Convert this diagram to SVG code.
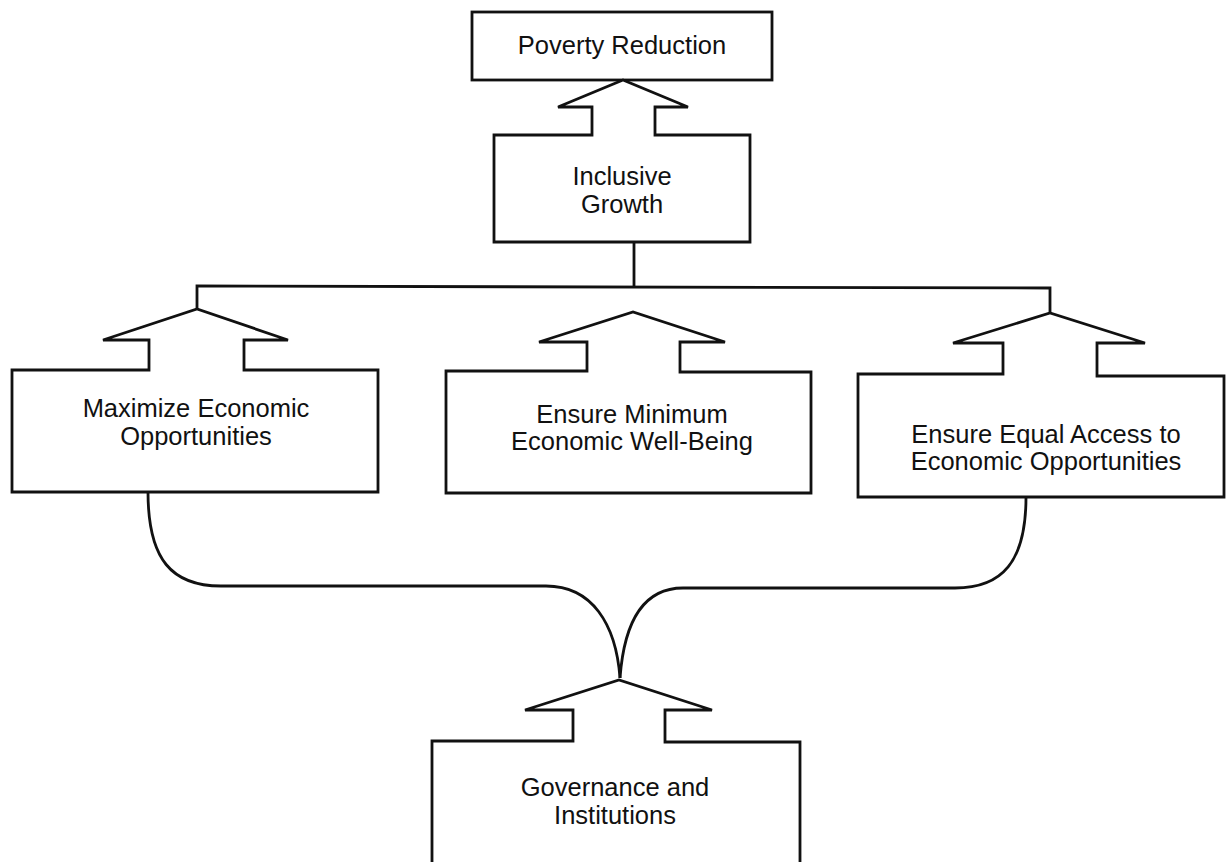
<svg xmlns="http://www.w3.org/2000/svg" width="1226" height="862" viewBox="0 0 1226 862">
<style>
.shape{fill:#fff;stroke:#111;stroke-width:2.8;stroke-linejoin:miter}
.open{fill:none;stroke:#111;stroke-width:2.8}
.lbl{font-family:"Liberation Sans",Arial,sans-serif;font-size:25.5px;fill:#111;text-anchor:middle}
.conn{fill:none;stroke:#111;stroke-width:2.8}
</style>
<rect width="1226" height="862" fill="#fff"/>
<g id="connectors">
<path class="conn" d="M634,242 L634,286"/>
<path class="conn" d="M197,309 L197,286 L1050,288 L1050,313"/>
<path class="conn" d="M148,492 C148,560 172,586 221,586 L546,586 C592,586 616,624 620,678"/>
<path class="conn" d="M1026,497 C1026,562 1002,588 955,588 L683,588 C642,588 624,624 620,678"/>
</g>
<g id="poverty-reduction">
<rect class="shape" x="472" y="12" width="300" height="68"/>
<text class="lbl" x="622" y="54">Poverty Reduction</text>
</g>
<g id="inclusive-growth">
<path class="shape" d="M494,135 L592,135 L592,107 L558,107 L623,80 L688,107 L655,107 L655,135 L750,135 L750,242 L494,242 Z"/>
<text class="lbl" x="622" y="185">Inclusive</text>
<text class="lbl" x="622" y="213">Growth</text>
</g>
<g id="maximize-economic-opportunities">
<path class="shape" d="M12,370 L149,370 L149,340 L103,340 L197,309 L288,340 L244,340 L244,370 L378,370 L378,492 L12,492 Z"/>
<text class="lbl" x="196" y="417">Maximize Economic</text>
<text class="lbl" x="196" y="445">Opportunities</text>
</g>
<g id="ensure-minimum-well-being">
<path class="shape" d="M446,371 L587,371 L587,342 L539,342 L633,312 L725,342 L680,342 L680,372 L811,372 L811,493 L446,493 Z"/>
<text class="lbl" x="632" y="423">Ensure Minimum</text>
<text class="lbl" x="632" y="450">Economic Well-Being</text>
</g>
<g id="ensure-equal-access">
<path class="shape" d="M858,374 L1003,374 L1003,343 L953,343 L1050,313 L1145,343 L1097,343 L1097,376 L1224,376 L1224,497 L858,497 Z"/>
<text class="lbl" x="1046" y="443">Ensure Equal Access to</text>
<text class="lbl" x="1046" y="470">Economic Opportunities</text>
</g>
<g id="governance-institutions">
<path class="open" d="M432,862 L432,741 L573,741 L573,710 L525,710 L619,680 L712,710 L665,710 L665,742 L800,742 L800,862"/>
<text class="lbl" x="615" y="796">Governance and</text>
<text class="lbl" x="615" y="824">Institutions</text>
</g>
</svg>
